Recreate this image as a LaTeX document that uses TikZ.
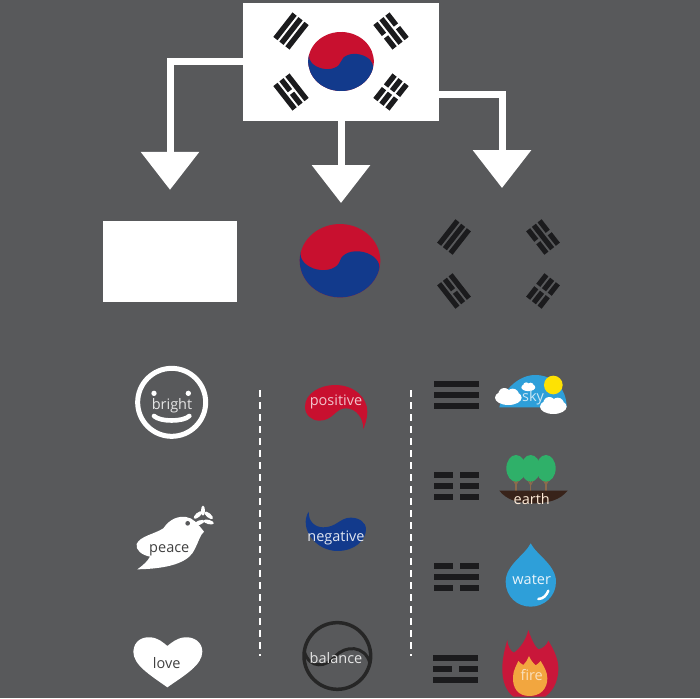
\documentclass[tikz,border=0pt]{standalone}
\usepackage{fontspec}
\setmainfont{Open Sans}
\usetikzlibrary{arrows.meta,positioning,calc}
\definecolor{slate}{HTML}{58595B}
\definecolor{barblack}{HTML}{1B1B1D}
\definecolor{flagred}{HTML}{C8102F}
\definecolor{flagblue}{HTML}{123A8C}
\definecolor{skyblue}{HTML}{2E9FD9}
\definecolor{leaf}{HTML}{2FB069}
\definecolor{soil}{HTML}{38231A}
\definecolor{trunk}{HTML}{8C6B4C}
\definecolor{flame}{HTML}{C9173A}
\definecolor{ember}{HTML}{F2A63F}
\newcommand{\barhalf}{3.4}
\newcommand{\gaphalf}{3.5}
\newcommand{\trigbar}[2]{%
  \ifnum#2=1
    \fill[barblack] (-22.5,#1-\barhalf) rectangle (22.5,#1+\barhalf);
  \else
    \fill[barblack] (-22.5,#1-\barhalf) rectangle (-\gaphalf,#1+\barhalf);
    \fill[barblack] (\gaphalf,#1-\barhalf) rectangle (22.5,#1+\barhalf);
  \fi}
\tikzset{
  bar half/.code={\renewcommand{\barhalf}{#1}},
  gap half/.code={\renewcommand{\gaphalf}{#1}},
  slanted/.style={rotate=#1,bar half=3.9,gap half=2.4},
  pics/trigram/.style n args={3}{code={\trigbar{-11}{#1}\trigbar{0}{#2}\trigbar{11}{#3}}},
  pics/taegeuk/.style={code={
    \fill[flagred] (0,0) circle (1);
    \fill[flagblue] (-1,0) arc (180:0:1) arc (0:-180:.5 and .37) arc (0:180:.5 and .37) -- cycle;
  }},
  pics/puff/.style={code={
    \fill[white] (0,0) ellipse (40 and 22) (-12,-11) circle (18) (13,-8) circle (19);
  }},
}
\begin{document}
\begin{tikzpicture}[
    x=1pt,y=-1pt,
    flow/.style={white,line width=7pt,-{Triangle[length=38pt,width=57pt]}},
    sepline/.style={white,line width=2.5pt,dash pattern=on 7pt off 5pt},
    panel/.style={fill=white,inner sep=0pt},
    word/.style={inner sep=0pt,yshift=-1.5pt,font=\fontsize{14.5}{16}\selectfont},
    zoomed/.style 2 args={shift={(#1,#2)},x=.3333pt,y=-.3333pt},
  ]
  \fill[slate] (0,0) rectangle (700,698);

  % flag
  \node[panel,minimum width=196pt,minimum height=118pt] (flag) at (341,61.7) {};
  \pic[scale=32.8,yscale=.9,rotate=-14] at (341,61.5) {taegeuk};
  \pic[slanted=52,scale=.69] at (291,31) {trigram={1}{1}{1}};
  \pic[slanted=-52,scale=.69] at (391,31) {trigram={0}{1}{0}};
  \pic[slanted=-52,scale=.69] at (291,92) {trigram={1}{0}{1}};
  \pic[slanted=52,scale=.69] at (391,92) {trigram={0}{0}{0}};

  % parts
  \node[panel,minimum width=134pt,minimum height=81pt] (blank) at (170,261.5) {};
  \node[inner sep=0pt,minimum size=73pt,circle] (disc) at (340,260.7) {};
  \pic[scale=40.3,yscale=.91,rotate=-14] at (disc) {taegeuk};
  \coordinate (bars) at (502,264);
  \pic[slanted=52,scale=.66] at (454,237) {trigram={1}{1}{1}};
  \pic[slanted=-52,scale=.66] at (543,237) {trigram={0}{1}{0}};
  \pic[slanted=-52,scale=.66] at (454,291) {trigram={1}{0}{1}};
  \pic[slanted=52,scale=.66] at (543,291) {trigram={0}{0}{0}};

  \draw[flow,shorten >=31pt] (flag.west) -| (blank.north);
  \draw[flow,shorten >=21pt] (flag.south) -- (flag.south |- disc.north);
  \draw[flow,shorten >=76pt] ([yshift=-33pt]flag.east) -| (bars);

  % separators
  \coordinate (sepa) at (260,390);
  \coordinate (sepb) at (260,656);
  \coordinate (sepc) at (411,390);
  \coordinate (sepd) at (411,656);
  \draw[sepline] (sepa) -- (sepb);
  \draw[sepline] (sepc) -- (sepd);

  % left column
  \begin{scope}[zoomed={110}{360}]
    \draw[white,line width=5pt] (185,127) circle (102);
    \fill[white] (132,100) circle (8) (235,100) circle (8);
    \draw[white,line width=4.6pt,line cap=round] (132,168) .. controls (150,186) and (220,186) .. (238,168);
    \fill[white] (82,628) .. controls (100,615) and (112,605) .. (120,590)
      .. controls (95,585) and (76,570) .. (80,552)
      .. controls (90,528) and (135,522) .. (160,505)
      .. controls (180,476) and (205,468) .. (228,471)
      .. controls (250,474) and (262,490) .. (282,515)
      .. controls (270,525) and (265,548) .. (254,568)
      .. controls (240,600) and (195,626) .. (82,628) -- cycle;
    \fill[slate] (233,490) circle (7);
    \fill[white,rotate around={90:(279,452)}] (279,452) ellipse (15 and 6);
    \fill[white,rotate around={40:(264,465)}] (264,465) ellipse (16 and 6.5);
    \fill[white,rotate around={-40:(296,466)}] (296,466) ellipse (16 and 6.5);
    \fill[white,rotate around={20:(268,488)}] (268,488) ellipse (16 and 6.5);
    \fill[white,rotate around={-15:(296,486)}] (296,486) ellipse (16 and 6.5);
    \fill[white] (172,982) .. controls (120,945) and (70,915) .. (70,875)
      .. controls (72,840) and (100,830) .. (122,832)
      .. controls (145,834) and (160,848) .. (172,858)
      .. controls (185,848) and (200,834) .. (225,832)
      .. controls (250,830) and (277,845) .. (277,875)
      .. controls (277,915) and (225,945) .. (172,982) -- cycle;
  \end{scope}
  \node[word,text=white!90!black] (bright) at (172,404) {bright};
  \node[word,text=black!75] (peace) at (169.3,549) {peace};
  \node[word,text=black!75] (love) at (166.7,661.7) {love};

  % middle column
  \begin{scope}[zoomed={280}{370}]
    \fill[flagred] (75,110) .. controls (75,70) and (120,45) .. (165,45)
      .. controls (225,45) and (262,85) .. (262,125)
      .. controls (262,145) and (255,165) .. (250,177)
      .. controls (250,145) and (230,115) .. (197,115)
      .. controls (165,115) and (160,152) .. (118,152)
      .. controls (95,152) and (75,135) .. (75,110) -- cycle;
    \fill[flagblue] (86,425) .. controls (70,450) and (78,480) .. (90,497)
      .. controls (110,530) and (145,543) .. (172,543)
      .. controls (225,543) and (258,510) .. (258,478)
      .. controls (258,455) and (235,443) .. (212,443)
      .. controls (180,443) and (170,472) .. (130,472)
      .. controls (105,472) and (85,455) .. (86,425) -- cycle;
    \draw[black!85,line width=3.5pt] (172,858) circle (100);
    \draw[black!85,line width=3pt] (73,845) .. controls (90,900) and (140,890) .. (165,860)
      .. controls (195,825) and (255,825) .. (270,880);
  \end{scope}
  \node[word,text=flagred!25!white] (positive) at (336,400) {positive};
  \node[word,text=flagblue!12!white] (negative) at (336,536.7) {negative};
  \node[word,text=white!90!black] (balance) at (336,656.7) {balance};

  % right column
  \pic at (456,395) {trigram={1}{1}{1}};
  \pic at (456,486) {trigram={0}{0}{0}};
  \pic at (456,577) {trigram={0}{1}{0}};
  \pic at (455,669) {trigram={1}{0}{1}};
  \begin{scope}[zoomed={420}{360}]
    \fill[skyblue] (238,142) .. controls (250,85) and (300,45) .. (345,45)
      .. controls (400,45) and (440,85) .. (440,142) -- cycle;
    \fill[yellow!85!orange] (400,75) circle (28);
    \pic at (265,113) {puff};
    \pic at (400,140) {puff};
    \pic[scale=.52] at (325,82) {puff};
    \foreach \tx in {288,332,378} {
      \draw[trunk,line width=1.5pt] (\tx,345) -- (\tx,392);
      \draw[trunk,line width=1pt] (\tx,375) -- (\tx-14,350) (\tx,375) -- (\tx+14,350);
      \fill[leaf] (\tx,325) ellipse (29 and 40);
    }
    \fill[soil] (238,392) -- (443,392) .. controls (420,420) and (385,430) .. (340,430)
      .. controls (295,430) and (260,420) .. (238,392) -- cycle;
  \end{scope}
  \begin{scope}[zoomed={420}{530}]
    \fill[skyblue] (332,40) .. controls (315,75) and (257,105) .. (257,155)
      .. controls (257,200) and (292,230) .. (332,230)
      .. controls (372,230) and (408,200) .. (408,155)
      .. controls (408,105) and (350,75) .. (332,40) -- cycle;
    \draw[white,line width=2.5pt,line cap=round] (355,207) .. controls (370,207) and (380,195) .. (385,182);
    \fill[flame] (262,330) .. controls (262,345) and (272,365) .. (282,368)
      .. controls (300,355) and (318,330) .. (325,300)
      .. controls (335,330) and (345,350) .. (355,358)
      .. controls (370,355) and (380,345) .. (385,332)
      .. controls (405,365) and (415,390) .. (415,415)
      .. controls (415,465) and (390,490) .. (375,500)
      -- (280,500) .. controls (260,485) and (245,455) .. (247,410)
      .. controls (248,380) and (255,355) .. (262,330) -- cycle;
    \fill[ember] (328,498) .. controls (295,498) and (277,475) .. (279,440)
      .. controls (280,420) and (290,405) .. (295,393)
      .. controls (300,398) and (305,403) .. (310,405)
      .. controls (318,398) and (323,388) .. (327,378)
      .. controls (332,390) and (340,400) .. (347,406)
      .. controls (352,403) and (358,398) .. (362,393)
      .. controls (372,410) and (382,425) .. (382,445)
      .. controls (382,478) and (360,498) .. (328,498) -- cycle;
  \end{scope}
  \node[word,text=skyblue!25!white] (sky) at (533,396) {sky};
  \node[word,text=orange!15!white] (earth) at (531.7,497.3) {earth};
  \node[word,text=skyblue!10!white] (water) at (531.7,578.3) {water};
  \node[word,text=ember!35!white] (fire) at (531.7,674) {fire};
\end{tikzpicture}
\end{document}
